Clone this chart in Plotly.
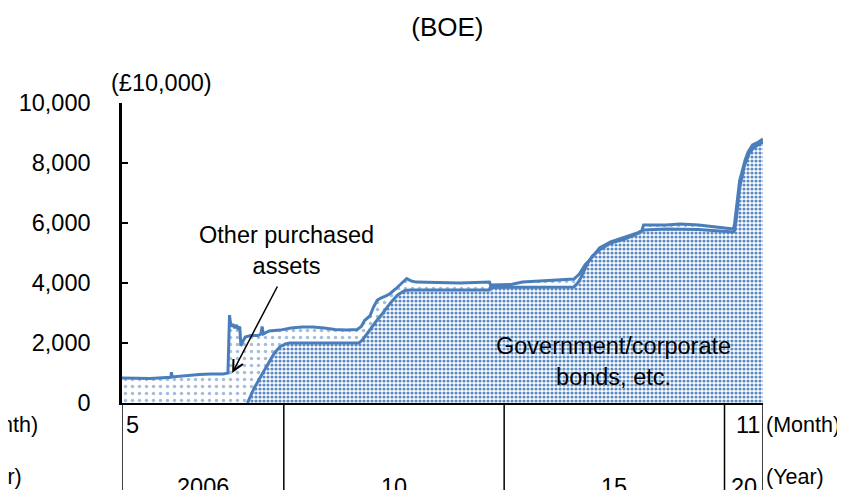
import plotly.graph_objects as go

# ---------------- data ----------------
total_dates = [
    "2006-05-01", "2006-08-17", "2006-12-19", "2007-06-10", "2007-06-15", "2007-06-20",
    "2007-11-17", "2008-02-01", "2008-05-01", "2008-08-17", "2008-09-25", "2008-10-08",
    "2008-10-15", "2008-10-25", "2008-11-05", "2008-11-20", "2008-12-05", "2008-12-20",
    "2009-01-01", "2009-01-10", "2009-01-20", "2009-02-15", "2009-04-01", "2009-06-01",
    "2009-06-25", "2009-07-05", "2009-07-15", "2009-09-01", "2009-12-01", "2010-03-01",
    "2010-06-01", "2010-09-01", "2010-12-01", "2011-03-01", "2011-06-01", "2011-09-01",
    "2011-10-05", "2011-11-01", "2011-12-15", "2012-01-15", "2012-02-15", "2012-03-15",
    "2012-05-01", "2012-06-01", "2012-07-15", "2012-09-01", "2012-10-15", "2012-11-15",
    "2013-01-01", "2014-01-01", "2014-08-01", "2014-09-01", "2014-09-10", "2015-03-01",
    "2015-06-01", "2016-01-01", "2016-06-01", "2016-08-01", "2016-09-15", "2016-11-01",
    "2017-01-01", "2017-03-01", "2017-06-01", "2017-10-01", "2018-01-15", "2018-02-15",
    "2018-03-01", "2018-09-01", "2019-01-01", "2019-06-01", "2019-10-01", "2020-02-01",
    "2020-03-15", "2020-03-25", "2020-04-05", "2020-04-20", "2020-05-05", "2020-05-25",
    "2020-06-20", "2020-07-15", "2020-08-20", "2020-09-25", "2020-11-15",
]
total_vals = [
    830, 820, 820, 860, 1030, 870,
    930, 950, 970, 970, 1000, 2930,
    2700, 2550, 2630, 2500, 2600, 2450,
    2550, 1900, 2000, 2200, 2250, 2250,
    2300, 2550, 2300, 2400, 2430, 2500,
    2530, 2530, 2500, 2450, 2430, 2450,
    2550, 2750, 2900, 3200, 3430, 3500,
    3580, 3650, 3800, 4000, 4150, 4080,
    4030, 4000, 4030, 4030, 3930, 3950,
    4030, 4070, 4100, 4130, 4300, 4600,
    4870, 5170, 5370, 5530, 5680, 5750,
    5930, 5930, 5970, 5930, 5870, 5800,
    5800, 6000, 6430, 7000, 7400, 7700,
    8100, 8370, 8600, 8670, 8800,
]

gov_dates = [
    "2006-05-01", "2009-03-05", "2009-05-01", "2009-07-01", "2009-09-15", "2009-10-15",
    "2009-12-01", "2010-01-15", "2010-02-15", "2011-09-15", "2011-10-15", "2011-12-15",
    "2012-02-01", "2012-04-01", "2012-06-01", "2012-08-01", "2012-10-01", "2012-11-15",
    "2014-09-01", "2014-09-10", "2016-08-01", "2016-09-01", "2016-10-01", "2016-11-15",
    "2017-01-01", "2017-03-01", "2017-06-01", "2017-10-01", "2018-01-15", "2018-03-01",
    "2018-09-01", "2019-06-01", "2019-11-01", "2020-03-15", "2020-03-25", "2020-04-10",
    "2020-04-25", "2020-05-10", "2020-06-15", "2020-07-25", "2020-09-05", "2020-11-15",
]
gov_vals = [
    0, 0, 500, 930, 1450, 1670,
    1880, 1970, 2000, 2000, 2100, 2450,
    2700, 3000, 3330, 3600, 3750, 3770,
    3770, 3850, 3870, 4000, 4200, 4600,
    4900, 5100, 5330, 5470, 5650, 5770,
    5800, 5780, 5730, 5700, 5750, 6200,
    6830, 7270, 7930, 8330, 8530, 8700,
]
gov_start = 1  # index where the government bond line begins (purchases start)

y_ticks = [0, 2000, 4000, 6000, 8000, 10000]
x_start, x_end = "2006-05-01", "2020-11-15"
year_boundaries = ["2006-05-01", "2010-01-01", "2015-01-01", "2020-01-01", "2020-11-15"]
year_labels = ["2006", "10", "15", "20"]
year_label_pos = ["2008-03-01", "2012-07-01", "2017-07-01", "2020-06-08"]
month_first, month_last = "5", "11"

BLUE = "#4a7ebb"
FONT = "Liberation Sans, Arial, sans-serif"
FS = 23.5
FS_UNIT = 21.5

fig = go.Figure()

# government / corporate bond area (dense dots)
fig.add_trace(go.Scatter(
    x=gov_dates, y=gov_vals, mode="lines", line=dict(width=0, color=BLUE),
    fill="tozeroy", fillcolor="rgba(0,0,0,0)",
    fillpattern=dict(shape=".", size=4, solidity=0.5, fgcolor=BLUE, bgcolor="white", fgopacity=0.9),
    hoverinfo="skip", showlegend=False,
))
# other purchased assets area (sparse dots)
fig.add_trace(go.Scatter(
    x=total_dates, y=total_vals, mode="lines", line=dict(width=0, color=BLUE),
    fill="tonexty", fillcolor="rgba(0,0,0,0)",
    fillpattern=dict(shape=".", size=7, solidity=0.2, fgcolor=BLUE, bgcolor="white"),
    hoverinfo="skip", showlegend=False,
))
# lines
fig.add_trace(go.Scatter(
    x=gov_dates[gov_start:], y=gov_vals[gov_start:], mode="lines",
    line=dict(width=3, color=BLUE), showlegend=False,
))
fig.add_trace(go.Scatter(
    x=total_dates, y=total_vals, mode="lines",
    line=dict(width=3, color=BLUE), showlegend=False,
))

# year boundary lines under the axis
for d in year_boundaries:
    fig.add_shape(type="line", xref="x", yref="paper", x0=d, x1=d, y0=0, y1=-0.35,
                  line=dict(color="black", width=1.5))

ann = []
# month labels
ann.append(dict(x=x_start, y=-0.073, xref="x", yref="paper", text=month_first,
                xanchor="left", yanchor="middle", xshift=2, showarrow=False))
ann.append(dict(x=x_end, y=-0.073, xref="x", yref="paper", text=month_last,
                xanchor="right", yanchor="middle", xshift=-1, showarrow=False))
ann.append(dict(x=x_end, y=-0.073, xref="x", yref="paper", text="(Month)",
                xanchor="left", yanchor="middle", xshift=1, showarrow=False,
                font=dict(size=FS_UNIT)))
ann.append(dict(x=x_end, y=-0.245, xref="x", yref="paper", text="(Year)",
                xanchor="left", yanchor="middle", xshift=1, showarrow=False,
                font=dict(size=FS_UNIT)))
# cut-off labels from neighbouring panel
ann.append(dict(x=-0.25, y=-0.073, xref="paper", yref="paper", text="(Month)",
                xanchor="left", yanchor="middle", showarrow=False, font=dict(size=FS_UNIT)))
ann.append(dict(x=-0.25, y=-0.245, xref="paper", yref="paper", text="(Year)",
                xanchor="left", yanchor="middle", showarrow=False, font=dict(size=FS_UNIT)))
# year labels
for lab, pos in zip(year_labels, year_label_pos):
    ann.append(dict(x=pos, y=-0.28, xref="x", yref="paper", text=lab,
                    xanchor="center", yanchor="middle", showarrow=False))
# unit label
ann.append(dict(x=-0.02, y=1.067, xref="paper", yref="paper", text="(£10,000)",
                xanchor="left", yanchor="middle", showarrow=False))
# series labels
ann.append(dict(x="2010-01-20", y=5100, xref="x", yref="y", text="Other purchased<br>assets",
                xanchor="center", yanchor="middle", showarrow=False))
ann.append(dict(x="2008-10-30", y=1000, xref="x", yref="y", text="",
                showarrow=True, arrowhead=5, arrowsize=1.4, arrowwidth=1.5, arrowcolor="black",
                ax=46, ay=-88, axref="pixel", ayref="pixel"))
ann.append(dict(x="2017-06-28", y=1400, xref="x", yref="y", text="Government/corporate<br>bonds, etc.",
                xanchor="center", yanchor="middle", showarrow=False))

# page body has an 8px margin, so size/margins are reduced to keep the plot area in place
fig.update_layout(
    width=837, height=482,
    margin=dict(l=114, r=82, t=95, b=87),
    paper_bgcolor="white", plot_bgcolor="white",
    font=dict(family=FONT, size=FS, color="black"),
    title=dict(text="(BOE)", x=0.525, xanchor="center", y=0.96, yanchor="middle",
               font=dict(family=FONT, size=26, color="black")),
    annotations=ann,
    showlegend=False,
    xaxis=dict(type="date", range=[x_start, x_end], showgrid=False, zeroline=False,
               showticklabels=False, ticks="", showline=True, linecolor="black", linewidth=2),
    yaxis=dict(range=[0, 10000], tickvals=y_ticks, tickformat=",", showgrid=False, zeroline=False,
               ticks="inside", ticklen=6, tickwidth=1.5, tickcolor="black",
               showline=True, linecolor="black", linewidth=2.5,
               ticklabelstandoff=24, tickfont=dict(family=FONT, size=FS, color="black")),
)

fig.write_html("out.html")
